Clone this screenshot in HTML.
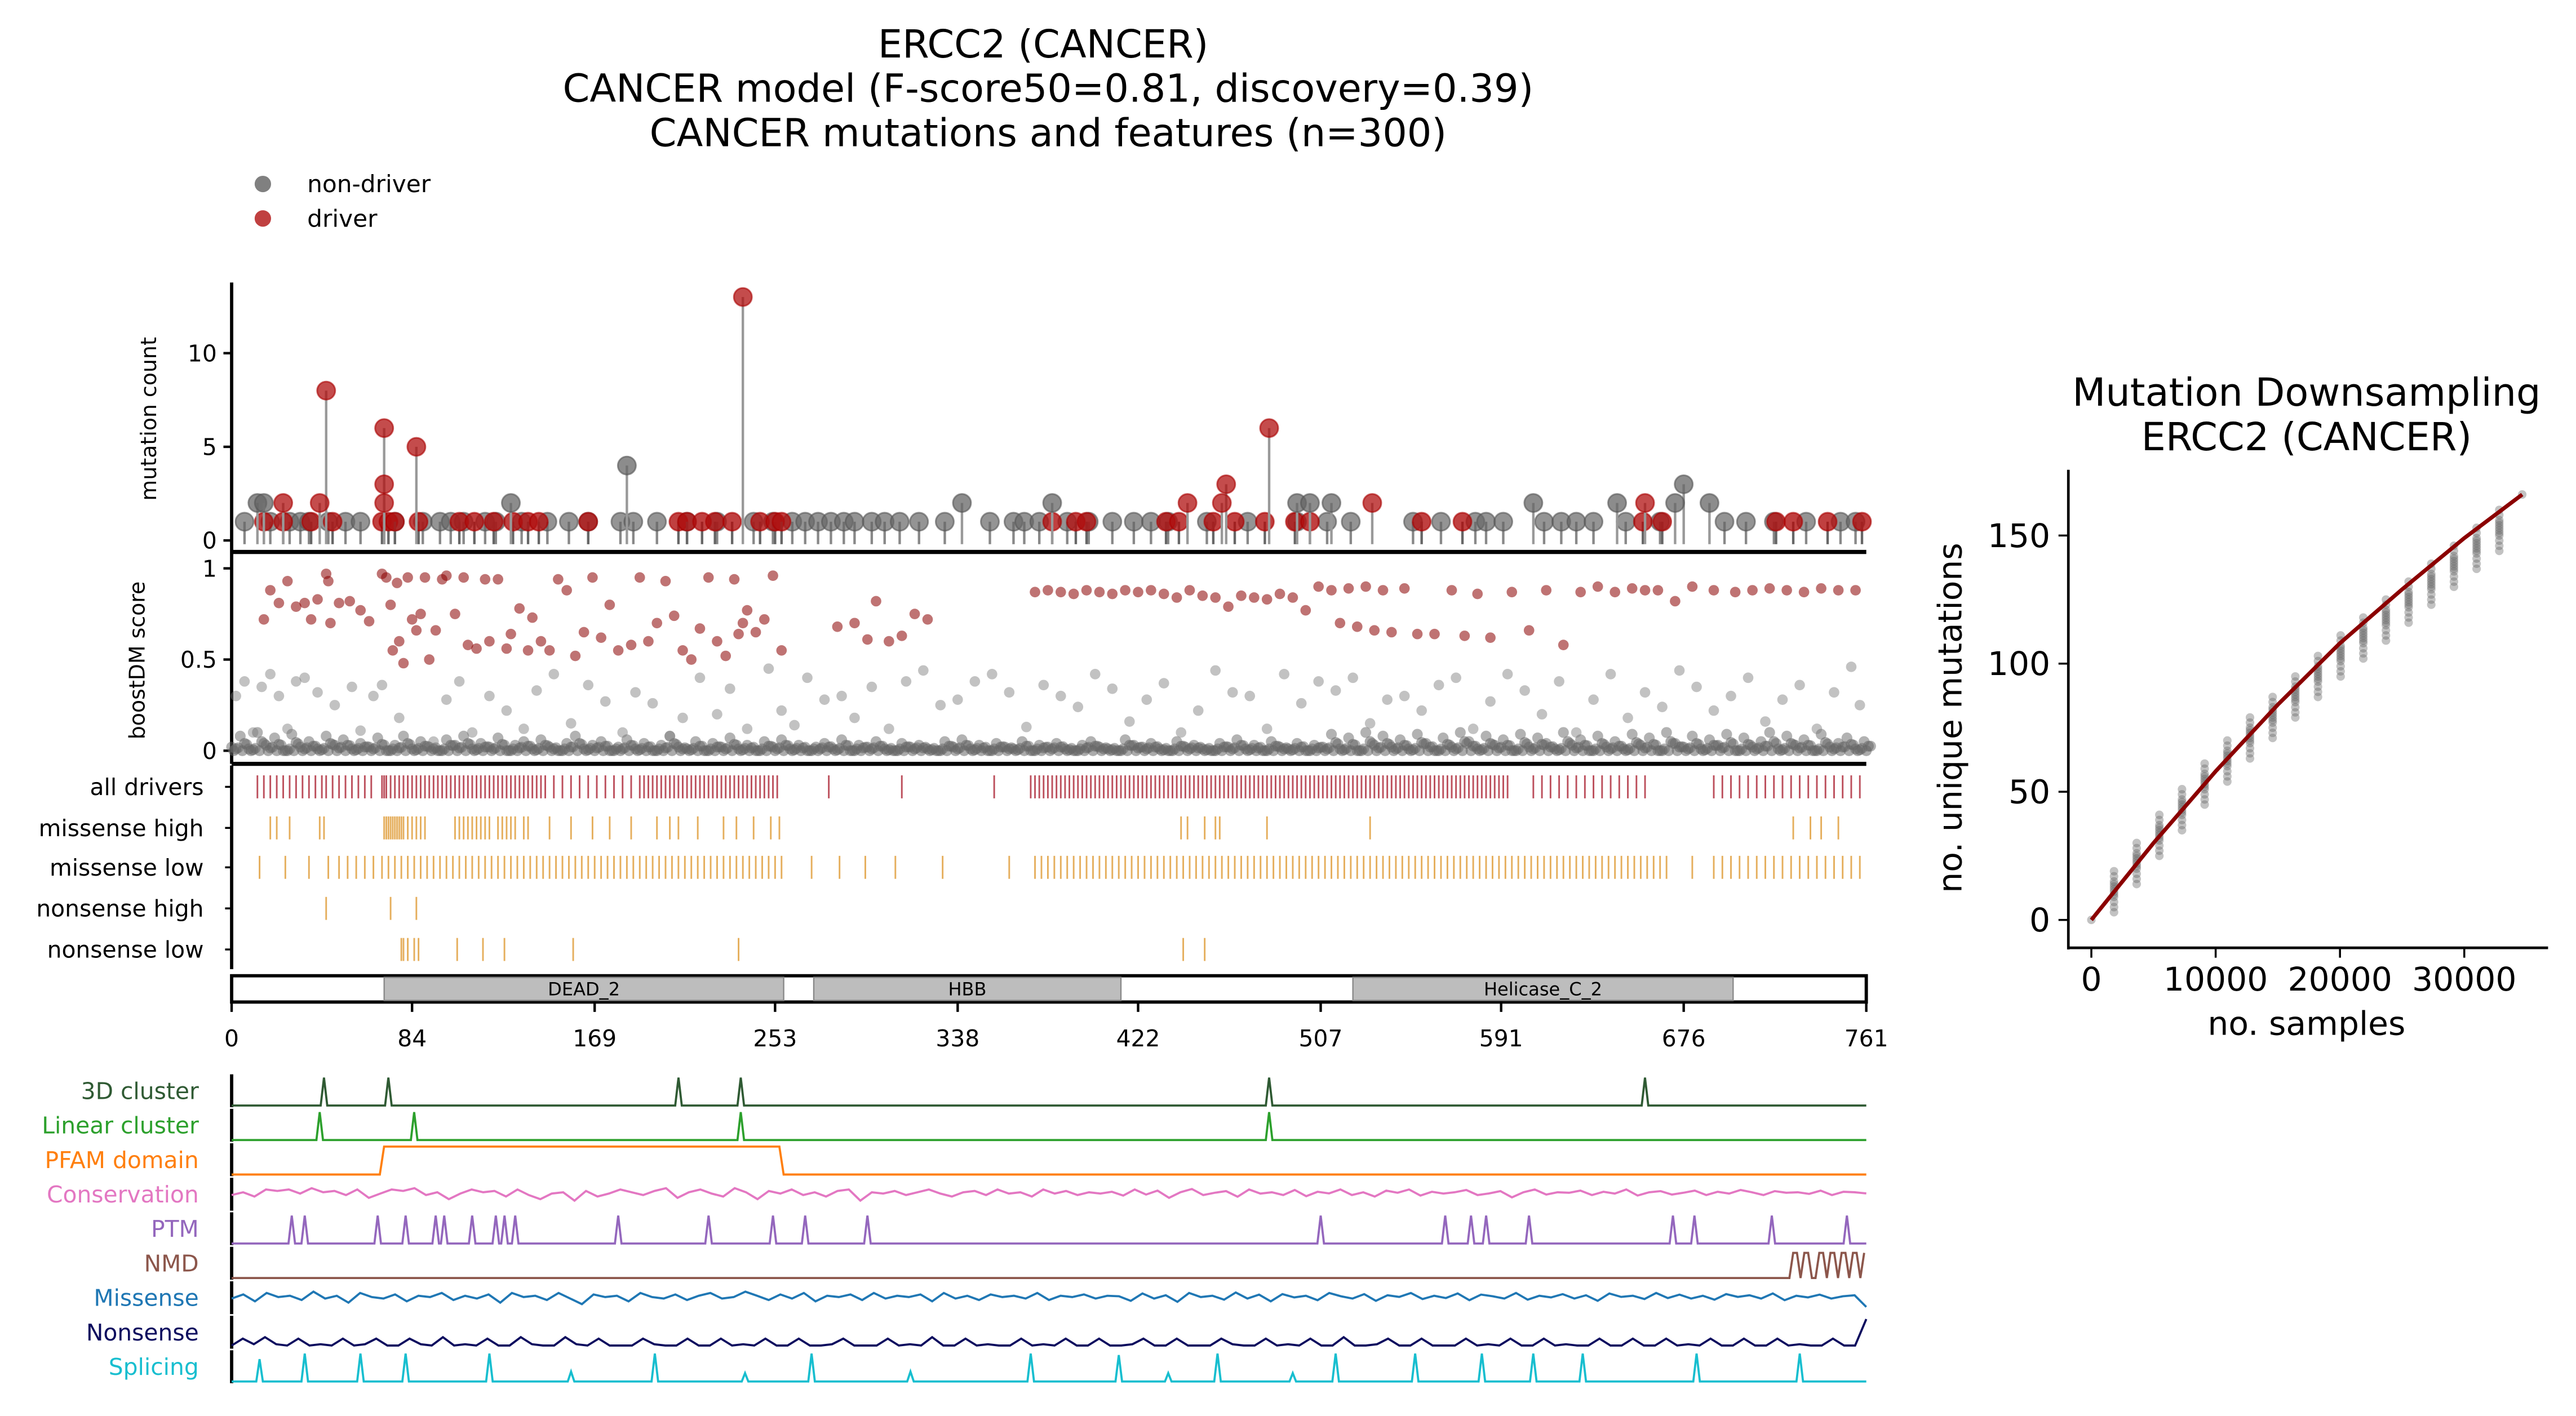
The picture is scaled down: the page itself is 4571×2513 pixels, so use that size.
<!DOCTYPE html>
<html><head><meta charset="utf-8"><style>
html,body{margin:0;padding:0;background:#fff}
svg{display:block}
text{font-family:"DejaVu Sans","Liberation Sans",sans-serif}
</style></head><body>
<svg id="chart" xmlns="http://www.w3.org/2000/svg" width="4571" height="2513" viewBox="0 0 1568 862" preserveAspectRatio="none">
<g font-size="23.5" text-anchor="middle" fill="#000">
<text x="635" y="35">ERCC2 (CANCER)</text>
<text x="638" y="62">CANCER model (F-score50=0.81, discovery=0.39)</text>
<text x="638" y="89">CANCER mutations and features (n=300)</text>
</g>
<g font-size="14.5">
<circle cx="160" cy="112" r="5" fill="#555" fill-opacity="0.75"/>
<text x="187" y="117">non-driver</text>
<circle cx="160" cy="133" r="5" fill="#b01010" fill-opacity="0.8"/>
<text x="187" y="138">driver</text>
</g>
<g id="g1"></g>
<g id="g2"></g>
<g id="g3"></g>
<g id="g4"></g>
<g id="g5"></g>
<g id="g6"></g>
</svg>
<script>
// ---------- data ----------
const protLen = 761;
const posTicks = [0,84,169,253,338,422,507,591,676,761];
const countTicks = [0,5,10];
const scoreTicks = [0,0.5,1];
const lolliPos =   [44,41,71,71,71,86,184,238,483,463,445,461,340,382,512,531,606,645,658,676,672,688,12,15,24,130,496,502];
const lolliCount = [8,2,6,3,2,5,4,13,6,3,2,2,2,2,2,2,2,2,2,3,2,2,2,2,2,2,2,2];
const lolliDriver= [1,1,1,1,1,1,0,1,1,1,1,1,0,0,0,1,0,0,1,0,0,0,0,0,1,0,0,0];
const singleGrayPos = [6,18,27,32,36,45,53,60,76,89,97,102,108,118,123,135,147,157,166,181,187,198,212,226,243,252,261,267,273,279,285,290,298,304,311,320,332,353,364,369,376,389,399,410,420,428,436,454,473,496,510,521,550,563,579,584,592,611,619,626,634,649,665,695,705,718,733,749,756];
const singleRedPos = [15,24,37,47,70,73,76,87,106,113,122,131,138,143,166,208,212,219,225,233,246,253,256,382,393,398,435,441,457,467,481,495,502,554,573,657,666,719,727,743,759];
const redPos =   [15,18,22,26,30,34,37,40,44,45,46,50,55,60,64,70,72,74,75,77,78,80,82,84,86,88,90,92,95,98,100,104,108,110,114,118,120,124,128,130,134,138,140,144,148,152,156,160,164,168,172,176,180,186,190,194,198,202,206,210,214,218,222,226,230,234,236,238,240,244,248,252,256,282,290,296,300,306,312,318,324,374,380,386,392,398,404,410,416,422,428,434,440,446,452,458,464,470,476,482,488,494,500,506,512,516,520,524,528,532,536,540,546,552,560,568,574,580,586,596,604,612,620,628,636,644,652,658,664,672,680,690,700,708,716,724,732,740,748,756];
const redScore = [.72,.88,.81,.93,.79,.81,.72,.83,.97,.93,.7,.81,.82,.77,.71,.97,.95,.8,.55,.92,.6,.48,.95,.72,.66,.75,.95,.5,.66,.94,.96,.75,.95,.58,.56,.94,.6,.94,.56,.64,.78,.55,.73,.6,.55,.94,.88,.52,.65,.95,.62,.8,.55,.58,.95,.6,.7,.93,.74,.55,.5,.67,.95,.6,.52,.94,.64,.7,.77,.65,.72,.96,.55,.68,.7,.61,.82,.6,.63,.75,.72,.87,.88,.87,.86,.88,.87,.86,.88,.87,.88,.86,.84,.88,.85,.84,.79,.85,.84,.83,.86,.84,.77,.9,.88,.7,.89,.68,.9,.66,.88,.65,.89,.64,.64,.88,.63,.86,.62,.87,.66,.88,.58,.87,.9,.87,.89,.88,.88,.82,.9,.88,.87,.88,.89,.88,.87,.89,.88,.88];
const grayPos =   [2,6,10,14,18,22,26,30,34,40,48,56,60,66,70,78,94,100,106,112,120,128,136,142,150,158,166,174,182,188,196,204,210,218,226,232,240,250,256,262,268,276,284,290,298,306,314,322,330,338,346,354,362,370,378,386,394,402,410,418,426,434,442,450,458,466,474,482,490,498,506,514,522,530,538,546,554,562,570,578,586,594,602,610,618,626,634,642,650,658,666,674,682,690,698,706,714,722,730,738,746,754,758];
const grayScore = [.3,.38,.1,.35,.42,.3,.12,.38,.4,.32,.25,.35,.11,.3,.36,.18,.05,.28,.38,.1,.3,.22,.12,.33,.42,.15,.36,.27,.1,.32,.26,.08,.18,.4,.2,.34,.12,.45,.22,.14,.4,.28,.3,.18,.35,.12,.38,.44,.25,.28,.38,.42,.32,.13,.36,.3,.24,.42,.34,.16,.28,.37,.1,.22,.44,.32,.3,.12,.42,.26,.38,.33,.4,.15,.28,.3,.22,.36,.4,.12,.27,.42,.33,.2,.38,.1,.28,.42,.18,.32,.24,.44,.35,.22,.3,.4,.16,.28,.36,.12,.32,.46,.25];
const basePos =  [0,4,8,12,16,20,24,28,32,36,40,44,48,52,56,60,64,68,72,76,80,84,88,92,96,100,104,108,112,116,120,124,128,132,136,140,144,148,152,156,160,164,168,172,176,180,184,188,192,196,200,204,208,212,216,220,224,228,232,236,240,244,248,252,256,260,264,268,272,276,280,284,288,292,296,300,304,308,312,316,320,324,328,332,336,340,344,348,352,356,360,364,368,372,376,380,384,388,392,396,400,404,408,412,416,420,424,428,432,436,440,444,448,452,456,460,464,468,472,476,480,484,488,492,496,500,504,508,512,516,520,524,528,532,536,540,544,548,552,556,560,564,568,572,576,580,584,588,592,596,600,604,608,612,616,620,624,628,632,636,640,644,648,652,656,660,664,668,672,676,680,684,688,692,696,700,704,708,712,716,720,724,728,732,736,740,744,748,752,756,760];
const baseScore= [.02,.08,.01,.1,.03,.07,.0,.09,.02,.05,.01,.08,.03,.06,.01,.04,.02,.07,.0,.03,.08,.01,.05,.02,.0,.06,.03,.08,.01,.04,.02,.07,.0,.03,.05,.01,.06,.02,.0,.04,.08,.01,.03,.05,.0,.02,.06,.01,.04,.0,.03,.08,.02,.01,.05,.0,.04,.02,.07,.01,.03,.0,.05,.02,.06,.01,.03,.0,.02,.04,.01,.06,.0,.03,.02,.05,.01,.0,.04,.02,.03,.01,.0,.05,.02,.06,.01,.03,.0,.04,.02,.01,.05,.0,.03,.02,.04,.01,.0,.03,.05,.02,.01,.0,.06,.03,.02,.04,.01,.0,.05,.02,.03,.01,.0,.04,.02,.06,.01,.03,.0,.05,.02,.01,.04,.0,.03,.02,.09,.01,.07,.0,.1,.03,.08,.02,.06,.01,.09,.04,.0,.07,.02,.1,.05,.01,.08,.03,.06,.0,.09,.02,.07,.04,.01,.1,.03,.06,.0,.08,.02,.05,.01,.09,.03,.07,.0,.1,.04,.02,.08,.01,.06,.03,.09,.0,.07,.02,.05,.1,.01,.08,.03,.06,.0,.09,.02,.04,.07,.01,.05,.02,.08,.0,.06];
const trackNames = ["all drivers","missense high","missense low","nonsense high","nonsense low"];
const allDrivers = [12,15,18,21,24,27,30,33,36,39,42,44,47,50,53,56,59,62,65,70,71,72,74,76,78,80,82,84,86,88,90,92,94,96,98,100,102,104,106,108,110,112,114,116,118,120,122,124,126,128,130,132,134,136,138,140,142,144,146,150,154,158,162,166,170,174,178,182,186,190,192,194,196,198,200,202,204,206,208,210,212,214,216,218,220,222,224,226,228,230,232,234,236,238,240,242,244,246,248,250,252,254,278,312,355,372,374,376,378,380,382,384,386,388,390,392,394,396,398,400,402,404,406,408,410,412,414,416,418,420,422,424,426,428,430,432,434,436,438,440,442,444,446,448,450,452,454,456,458,460,462,464,466,468,470,472,474,476,478,480,482,484,486,488,490,492,494,496,498,500,502,504,506,508,510,512,514,516,518,520,522,524,526,528,530,532,534,536,538,540,542,544,546,548,550,552,554,556,558,560,562,564,566,568,570,572,574,576,578,580,582,584,586,588,590,592,594,606,610,614,618,622,626,630,634,638,642,646,650,654,658,690,694,698,702,706,710,714,718,722,726,730,734,738,742,746,750,754,758];
const missenseHigh = [18,21,27,41,43,71,72,73,74,75,76,77,78,79,80,82,84,86,88,90,104,106,108,110,112,114,116,118,120,124,126,128,130,132,136,138,148,158,168,176,186,198,204,208,217,229,235,243,251,255,442,445,453,458,460,482,530,727,735,740,748];
const missenseLow = [13,25,36,45,50,54,58,62,66,70,73,76,79,82,85,88,91,94,97,100,103,106,109,112,115,118,121,124,127,130,133,136,139,142,145,148,151,154,157,160,163,166,169,172,175,178,181,184,187,190,193,196,199,202,205,208,211,214,217,220,223,226,229,232,235,238,241,244,247,250,253,256,270,283,295,309,331,362,374,377,380,383,386,389,392,395,398,401,404,407,410,413,416,419,422,425,428,431,434,437,440,443,446,449,452,455,458,461,464,467,470,473,476,479,482,485,488,491,494,497,500,503,506,509,512,515,518,521,524,527,530,533,536,539,542,545,548,551,554,557,560,563,566,569,572,575,578,581,584,587,590,593,596,599,602,605,608,611,614,617,620,623,626,629,632,635,638,641,644,647,650,653,656,659,662,665,668,680,690,694,698,702,706,710,714,718,722,726,730,734,738,742,746,750,754,758];
const nonsenseHigh = [44,74,86];
const nonsenseLow = [79,80,82,85,87,105,117,127,159,236,443,453];
const domainNames = ["DEAD_2","HBB","Helicase_C_2"];
const domainStart = [71,271,522];
const domainEnd = [257,414,699];
const featureNames = ["3D cluster","Linear cluster","PFAM domain","Conservation","PTM","NMD","Missense","Nonsense","Splicing"];
const featureColors = ["#2f5a33","#2ca02c","#ff7f0e","#e377c2","#9467bd","#8c564b","#1f77b4","#0b0b5e","#17becf"];
const cluster3D = [43,73,208,237,483,658];
const clusterLinear = [41,85,237,483];
const pfamStart = [69];
const pfamEnd = [255];
const ptmSites = [28,34,68,81,95,99,112,123,127,132,180,222,252,267,296,507,565,577,584,604,671,681,717,752];
const nmdSquiggle = [0,0,0,0,1,1,0,1,1,0,0,1,1,0,1,1,0,1,1,0,1,1,0,1];
const conservation = [.5,.6,.45,.7,.65,.7,.55,.75,.6,.65,.5,.7,.4,.55,.7,.65,.75,.5,.6,.35,.55,.7,.6,.65,.45,.7,.5,.35,.55,.6,.3,.65,.45,.55,.7,.6,.5,.65,.75,.4,.6,.7,.55,.45,.75,.6,.35,.65,.55,.7,.5,.6,.45,.65,.7,.3,.6,.55,.65,.5,.6,.7,.55,.45,.6,.65,.5,.7,.55,.6,.45,.7,.55,.65,.5,.6,.55,.62,.48,.7,.52,.66,.4,.6,.72,.5,.58,.64,.44,.7,.55,.6,.5,.68,.46,.62,.56,.7,.5,.6,.45,.66,.58,.7,.48,.62,.55,.6,.68,.5,.56,.64,.42,.6,.7,.52,.6,.58,.66,.5,.62,.55,.7,.48,.6,.64,.52,.58,.66,.5,.62,.55,.68,.6,.5,.64,.58,.6,.54,.66,.5,.62,.6,.56];
const missense = [.5,.65,.4,.7,.55,.6,.45,.75,.5,.6,.35,.7,.55,.5,.65,.4,.6,.55,.7,.45,.6,.5,.65,.35,.7,.55,.6,.45,.7,.5,.3,.65,.55,.6,.4,.7,.55,.5,.65,.45,.6,.7,.5,.55,.75,.6,.45,.65,.5,.7,.4,.6,.55,.65,.45,.7,.5,.6,.55,.65,.4,.7,.5,.6,.45,.65,.55,.6,.5,.7,.45,.6,.55,.65,.5,.6,.58,.42,.68,.5,.62,.38,.7,.55,.6,.46,.72,.5,.64,.4,.66,.54,.6,.44,.7,.58,.5,.66,.42,.62,.56,.7,.48,.6,.52,.68,.44,.64,.58,.5,.7,.46,.6,.54,.66,.5,.62,.42,.68,.56,.6,.48,.7,.52,.64,.5,.6,.46,.66,.56,.62,.5,.68,.44,.6,.54,.64,.5,.58,.62,.2];
const nonsense = [.05,.3,.1,.35,.1,.05,.3,.05,.1,.05,.3,.05,.1,.3,.05,.05,.3,.1,.05,.35,.05,.1,.05,.3,.05,.05,.35,.1,.05,.05,.35,.1,.05,.3,.05,.05,.05,.3,.1,.05,.05,.3,.05,.05,.3,.05,.1,.05,.3,.05,.05,.3,.05,.05,.1,.3,.05,.05,.05,.3,.05,.1,.05,.35,.05,.05,.3,.05,.1,.05,.05,.3,.05,.1,.05,.3,.05,.05,.3,.05,.05,.1,.3,.05,.05,.3,.05,.05,.05,.3,.1,.05,.05,.3,.05,.1,.05,.3,.05,.05,.35,.05,.05,.1,.3,.05,.05,.3,.05,.05,.05,.3,.05,.1,.05,.3,.05,.05,.3,.05,.1,.05,.05,.3,.05,.05,.3,.05,.05,.3,.05,.1,.05,.3,.05,.05,.3,.05,.05,.3,.05,.1,.05,.05,.3,.05,.05,1];
const splicePos = [13,34,60,81,120,158,197,239,270,316,372,413,436,459,494,514,551,582,606,629,682,730];
const spliceHeight = [.8,1,1,1,1,.35,1,.3,1,.35,1,.95,.3,1,.3,1,1,1,1,1,1,1];
const dsSamples = [0,1823,3646,5469,7292,9115,10938,12761,14584,16407,18230,20053,21876,23699,25522,27345,29168,30991,32814,34660];
const dsMean = [0,12,23,34,44,54,63,72,80,88,96,104,111,118,125,132,139,146,153,166];
const dsSpread = [-9,-7,-5,-3,-2,-1,0,1,2,3,5,7];
const dsXTicks = [0,10000,20000,30000];
const dsYTicks = [0,50,100,150];
const dsLineX = [0,5000,10000,15000,20000,25000,30000,34660];
const dsLineY = [0,30,58,84,108,129,149,166];

// ---------- helpers ----------
const NS = "http://www.w3.org/2000/svg";
function mk(parent, tag, attrs, txt){const e=document.createElementNS(NS,tag);for(const k in attrs)e.setAttribute(k,attrs[k]);if(txt!==undefined)e.textContent=txt;parent.appendChild(e);return e;}
const X0=141,X1=1136;
const X = p => X0 + p*(X1-X0)/protLen;
const Yc = c => 329 - c*11.4;
const Ys = s => 457 - s*111;

// ---------- panel 1: lollipop ----------
const g1=document.getElementById('g1');
let e;
e=mk(g1,'line',{x1:X0,y1:172,x2:X0,y2:337,stroke:'#000','stroke-width':2});
 
e=mk(g1,'text',{x:95,y:255,'font-size':13,'text-anchor':'middle',transform:'rotate(-90 95 255)'},'mutation count');
 
countTicks.forEach(t=>{
  e=mk(g1,'line',{x1:X0-5,y1:Yc(t),x2:X0,y2:Yc(t),stroke:'#000','stroke-width':1.5});
   
  e=mk(g1,'text',{x:X0-9,y:Yc(t)+5,'font-size':14,'text-anchor':'end'},String(t));
   
});
singleGrayPos.forEach(p=>{
  e=mk(g1,'line',{x1:X(p),y1:Yc(-0.2),x2:X(p),y2:Yc(1),stroke:'#888','stroke-width':1.5});
   
  e=mk(g1,'circle',{cx:X(p),cy:Yc(1),r:5.5,fill:'#666','fill-opacity':0.7,stroke:'#555','stroke-opacity':0.6});
   
});
singleRedPos.forEach(p=>{
  e=mk(g1,'line',{x1:X(p),y1:Yc(-0.2),x2:X(p),y2:Yc(1),stroke:'#666','stroke-width':1.5});
   
  e=mk(g1,'circle',{cx:X(p),cy:Yc(1),r:5.5,fill:'#b01010','fill-opacity':0.8,stroke:'#a00','stroke-opacity':0.6});
   
});
lolliPos.forEach((p,i)=>{
  e=mk(g1,'line',{x1:X(p),y1:Yc(-0.2),x2:X(p),y2:Yc(lolliCount[i]),stroke:'#999','stroke-width':1.5});
   
  e=mk(g1,'circle',{cx:X(p),cy:Yc(lolliCount[i]),r:5.5,fill:lolliDriver[i]?'#b01010':'#666','fill-opacity':0.75,stroke:lolliDriver[i]?'#a00':'#555','stroke-opacity':0.6});
   
});

// ---------- panel 2: boostDM ----------
const g2=document.getElementById('g2');
e=mk(g2,'line',{x1:X0,y1:336,x2:X1,y2:336,stroke:'#000','stroke-width':2.5});
 
e=mk(g2,'line',{x1:X0,y1:465,x2:X1,y2:465,stroke:'#000','stroke-width':2.5});
 
e=mk(g2,'line',{x1:X0,y1:337,x2:X0,y2:465,stroke:'#000','stroke-width':2});
 
e=mk(g2,'text',{x:88,y:402,'font-size':13,'text-anchor':'middle',transform:'rotate(-90 88 402)'},'boostDM score');
 
scoreTicks.forEach(t=>{
  e=mk(g2,'line',{x1:X0-5,y1:Ys(t),x2:X0,y2:Ys(t),stroke:'#000','stroke-width':1.5});
   
  e=mk(g2,'text',{x:X0-9,y:Ys(t)+5,'font-size':14,'text-anchor':'end'},String(t));
   
});
basePos.forEach((p,i)=>{
  e=mk(g2,'circle',{cx:X(p),cy:Ys(baseScore[i]),r:3.3,fill:'#666','fill-opacity':0.5});
   
  e=mk(g2,'circle',{cx:X(p+2),cy:Ys(baseScore[i]/2),r:3.3,fill:'#666','fill-opacity':0.55});
   
  e=mk(g2,'circle',{cx:X(p+1),cy:Ys(0),r:3.3,fill:'#666','fill-opacity':0.55});
   
  e=mk(g2,'circle',{cx:X(p+3),cy:Ys(baseScore[i]*0.3+0.01),r:3.3,fill:'#666','fill-opacity':0.5});
   
});
grayPos.forEach((p,i)=>{
  e=mk(g2,'circle',{cx:X(p),cy:Ys(grayScore[i]),r:3.2,fill:'#777','fill-opacity':0.45});
   
});
redPos.forEach((p,i)=>{
  e=mk(g2,'circle',{cx:X(p),cy:Ys(redScore[i]),r:3.2,fill:'#8b0000','fill-opacity':0.55});
   
});

// ---------- panel 3: tracks ----------
const g3=document.getElementById('g3');
e=mk(g3,'line',{x1:X0,y1:466,x2:X0,y2:590,stroke:'#000','stroke-width':2});
 
const trackData=[allDrivers,missenseHigh,missenseLow,nonsenseHigh,nonsenseLow];
const trackColor=['#b03040','#e0a040','#e0a040','#e0a040','#e0a040'];
const trackY=[479,504,528,553,578];
trackNames.forEach((n,i)=>{
  e=mk(g3,'text',{x:124,y:trackY[i]+5,'font-size':14,'text-anchor':'end'},n);
   
  e=mk(g3,'line',{x1:X0-4,y1:trackY[i],x2:X0,y2:trackY[i],stroke:'#000','stroke-width':1.2});
   
  trackData[i].forEach(p=>{
    e=mk(g3,'line',{x1:X(p),y1:trackY[i]-7,x2:X(p),y2:trackY[i]+7,stroke:trackColor[i],'stroke-width':1,'stroke-opacity':0.85});
     
  });
});

// ---------- panel 4: domains ----------
const g4=document.getElementById('g4');
e=mk(g4,'rect',{x:X0,y:594,width:X1-X0,height:16,fill:'#fff',stroke:'#000','stroke-width':2});
 
domainNames.forEach((n,i)=>{
  e=mk(g4,'rect',{x:X(domainStart[i]),y:595,width:X(domainEnd[i])-X(domainStart[i]),height:14,fill:'#bdbdbd',stroke:'#888','stroke-width':0.8});
   
  e=mk(g4,'text',{x:(X(domainStart[i])+X(domainEnd[i]))/2,y:606,'font-size':11,'text-anchor':'middle'},n);
   
});
posTicks.forEach(t=>{
  e=mk(g4,'line',{x1:X(t),y1:610,x2:X(t),y2:616,stroke:'#000','stroke-width':1.5});
   
  e=mk(g4,'text',{x:X(t),y:637,'font-size':14,'text-anchor':'middle'},String(t));
   
});

// ---------- panel 5: features ----------
const g5=document.getElementById('g5');
const fY=[664,685,706,727,748,769,790,811,832];
const H=17;
function polyline(pts,color,name){const s=pts.map(p=>p[0].toFixed(1)+','+p[1].toFixed(1)).join(' ');const el=mk(g5,'polyline',{points:s,fill:'none',stroke:color,'stroke-width':1.3});return el;}
function spikes(sites,heights,base,color,name,w){let pts=[[X0,base]];const order=sites.map((s,i)=>[s,heights?heights[i]:1]).sort((a,b)=>a[0]-b[0]);order.forEach(([s,h])=>{pts.push([X(s)-w,base]);pts.push([X(s),base-h*H]);pts.push([X(s)+w,base]);});pts.push([X1,base]);polyline(pts,color,name);}
function noisy(vals,base,color,name){const pts=vals.map((v,i)=>[X(i*protLen/(vals.length-1)),base-v*H]);polyline(pts,color,name);}
featureNames.forEach((n,i)=>{
  e=mk(g5,'text',{x:121,y:fY[i]+5,'font-size':14,'text-anchor':'end',fill:featureColors[i]},n);
   
  e=mk(g5,'line',{x1:X0,y1:fY[i]-10,x2:X0,y2:fY[i]+10,stroke:'#000','stroke-width':2});
   
});
spikes(cluster3D,null,fY[0]+9,featureColors[0],'3d-cluster-line',2);
spikes(clusterLinear,null,fY[1]+9,featureColors[1],'linear-cluster-line',2);
polyline([[X0,fY[2]+9],[X(pfamStart[0]),fY[2]+9],[X(pfamStart[0]+2),fY[2]-8],[X(pfamEnd[0]),fY[2]-8],[X(pfamEnd[0]+2),fY[2]+9],[X1,fY[2]+9]],featureColors[2],'pfam-domain-line');
noisy(conservation,fY[3]+9,featureColors[3],'conservation-line');
spikes(ptmSites,null,fY[4]+9,featureColors[4],'ptm-line',2);
(function(){const base=fY[5]+9;let pts=[[X0,base],[X(718),base]];nmdSquiggle.forEach((v,i)=>pts.push([X(720+i*40/(nmdSquiggle.length-1)),base-v*H*0.9]));polyline(pts,featureColors[5],'nmd-line');})();
noisy(missense,fY[6]+9,featureColors[6],'missense-line');
noisy(nonsense,fY[7]+9,featureColors[7],'nonsense-line');
spikes(splicePos,spliceHeight,fY[8]+9,featureColors[8],'splicing-line',2);

// ---------- panel 6: downsampling ----------
const g6=document.getElementById('g6');
const DX = s => 1273 + s*(1500-1273)/30000;
const DY = v => 560 - v*(560-326)/150;
e=mk(g6,'text',{x:1404,y:247,'font-size':23.5,'text-anchor':'middle'},'Mutation Downsampling');
 
e=mk(g6,'text',{x:1404,y:274,'font-size':23.5,'text-anchor':'middle'},'ERCC2 (CANCER)');
 
e=mk(g6,'line',{x1:1259,y1:286,x2:1259,y2:578,stroke:'#000','stroke-width':1.6});
 
e=mk(g6,'line',{x1:1259,y1:577,x2:1551,y2:577,stroke:'#000','stroke-width':1.6});
 
dsXTicks.forEach(t=>{
  e=mk(g6,'line',{x1:DX(t),y1:577,x2:DX(t),y2:583,stroke:'#000','stroke-width':1.2});
   
  e=mk(g6,'text',{x:DX(t),y:603,'font-size':20,'text-anchor':'middle'},String(t));
   
});
dsYTicks.forEach(t=>{
  e=mk(g6,'line',{x1:1253,y1:DY(t),x2:1259,y2:DY(t),stroke:'#000','stroke-width':1.2});
   
  e=mk(g6,'text',{x:1248,y:DY(t)+7,'font-size':20,'text-anchor':'end'},String(t));
   
});
e=mk(g6,'text',{x:1404,y:630,'font-size':20,'text-anchor':'middle'},'no. samples');
 
e=mk(g6,'text',{x:1194,y:437,'font-size':20,'text-anchor':'middle',transform:'rotate(-90 1194 437)'},'no. unique mutations');
 
dsSamples.forEach((s,i)=>{
  const spread = (i===0||i===dsSamples.length-1)?[0]:dsSpread;
  spread.forEach(d=>{
    e=mk(g6,'circle',{cx:DX(s),cy:DY(dsMean[i]+d),r:2.6,fill:'#666','fill-opacity':0.4});
     
  });
});
e=mk(g6,'polyline',{points:dsLineX.map((s,i)=>DX(s)+','+DY(dsLineY[i])).join(' '),fill:'none',stroke:'#8b0000','stroke-width':2.4});
 
</script>
</body></html>
